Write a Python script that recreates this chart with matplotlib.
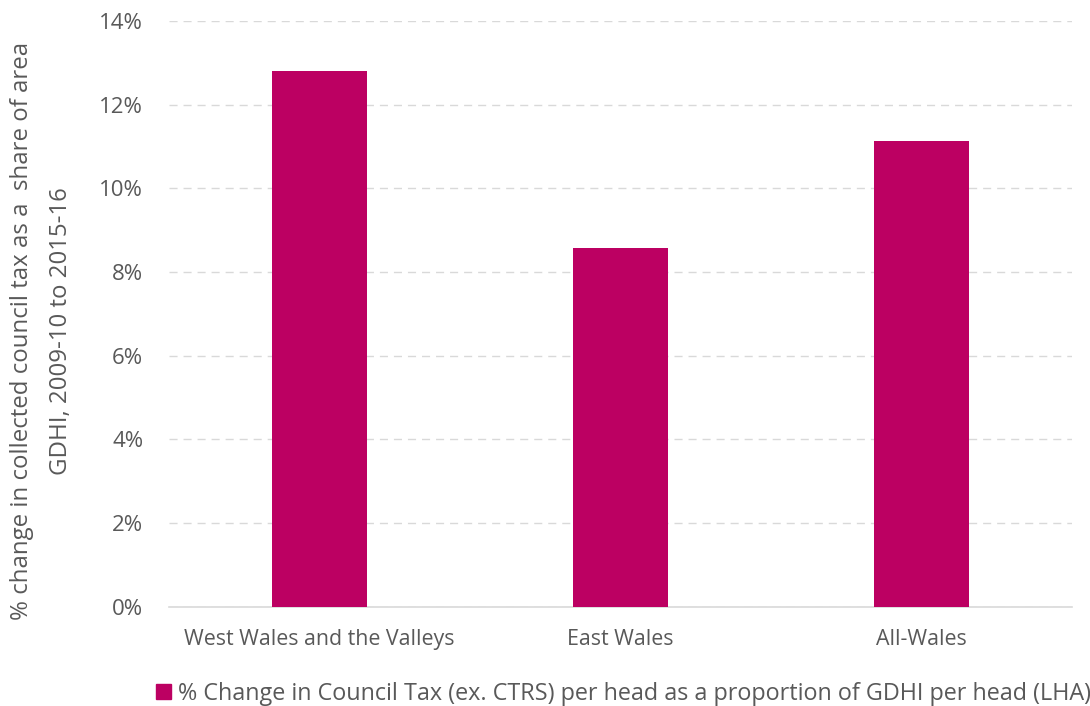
import matplotlib.pyplot as plt
import matplotlib.ticker as mtick
from matplotlib.patches import Patch

plt.rcParams['font.family'] = ['Open Sans', 'DejaVu Sans']

regions = ['West Wales and the Valleys', 'East Wales', 'All-Wales']
ct_change = [12.80, 8.57, 11.13]
series_name = '% Change in Council Tax (ex. CTRS) per head as a proportion of GDHI per head (LHA)'

bar_col = '#BC0062'
txt_col = '#595959'

fig = plt.figure(figsize=(10.9, 7.06), dpi=100)
ax = fig.add_axes([0.155, 0.1407, 0.8284, 0.8296])

x = range(len(regions))
ax.bar(x, ct_change, width=0.316, color=bar_col, zorder=3)

ax.set_xlim(-0.5, len(regions) - 0.5)
ax.set_ylim(0, 14)
ax.set_yticks(range(0, 15, 2))
ax.yaxis.set_major_formatter(mtick.FuncFormatter(lambda v, p: '%d%%' % v))
ax.set_xticks(list(x))
ax.set_xticklabels(regions)
ax.grid(axis='y', color='#D9D9D9', linestyle=(0, (5.8, 4.3)), linewidth=1.0, zorder=0)
for s in ['top', 'right', 'left']:
    ax.spines[s].set_visible(False)
ax.spines['bottom'].set_color('#D9D9D9')
ax.spines['bottom'].set_linewidth(1.2)
ax.tick_params(axis='y', length=0, colors=txt_col, labelsize=16, pad=18.5)
ax.tick_params(axis='x', length=0, colors=txt_col, labelsize=15.4, pad=16)

ax.set_ylabel('% change in collected council tax as a  share of area\nGDHI, 2009-10 to 2015-16',
              fontsize=17.3, color=txt_col, linespacing=1.82)
ax.yaxis.set_label_coords(-0.106, 0.471)

fig.legend(handles=[Patch(color=bar_col, label=series_name)],
           loc='center', bbox_to_anchor=(0.572, 0.017), frameon=False,
           fontsize=16.8, labelcolor=txt_col, handlelength=0.62, handleheight=0.62,
           handletextpad=0.3)

fig.savefig('out.png', dpi=100)
